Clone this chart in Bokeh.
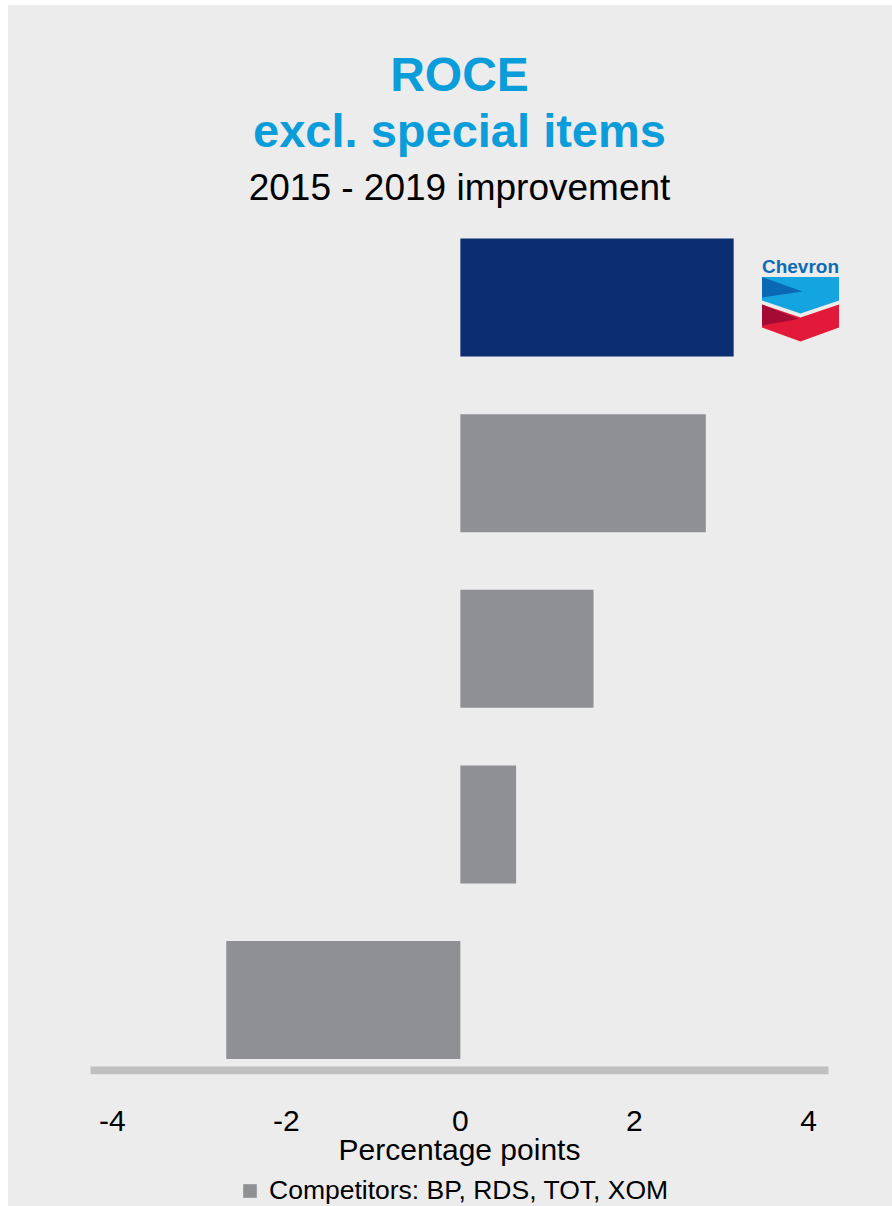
from bokeh.plotting import figure
from bokeh.layouts import column
from bokeh.models import (ColumnDataSource, Title, Legend, LegendItem, FixedTicker,
                          Range1d, PolyAnnotation, Label)
from bokeh.embed import file_html
from bokeh.resources import INLINE

# ---- data ----
categories = ["Chevron", "Competitor A", "Competitor B", "Competitor C", "Competitor D"]
improvement = [3.14, 2.82, 1.53, 0.64, -2.69]
tick_values = [-4, -2, 0, 2, 4]
tick_labels = ["-4", "-2", "0", "2", "4"]
legend_label = "Competitors: BP, RDS, TOT, XOM"
title_lines = ["ROCE", "excl. special items", "2015 - 2019 improvement"]
x_label = "Percentage points"
axis_extent = [-4.25, 4.23]

# ---- layout constants ----
OFF_X, OFF_Y = 8, 5            # white page strip left / top
W, H = 884, 1171               # main chart
LEG_H = 30                     # legend strip below
FONT = "Liberation Sans"
BG = "#ececec"
CVX_NAVY = "#0b2d71"
GREY = "#8e9094"
TITLE_BLUE = "#0a9dd9"

X0, X1 = -4.445, 4.425
Y0, Y1 = -0.4243, 4.4675
FRAME_L, FRAME_R, FRAME_T, FRAME_B = 65, 837, 210, 1069  # figure px

n = len(categories)
pos = [n - 1 - i for i in range(n)]

cvx = ColumnDataSource(dict(cat=categories[:1], y=pos[:1], v=improvement[:1]))
comp = ColumnDataSource(dict(cat=categories[1:], y=pos[1:], v=improvement[1:]))

p = figure(width=W, height=H, output_backend="svg", toolbar_location=None,
           x_range=Range1d(X0, X1), y_range=Range1d(Y0, Y1),
           y_axis_location=None,
           min_border_left=FRAME_L, min_border_right=W - FRAME_R,
           min_border_top=FRAME_T, min_border_bottom=H - FRAME_B)
p.margin = (OFF_Y, 0, 0, OFF_X)
p.styles = {"background-color": BG}
p.background_fill_color = None
p.border_fill_color = None
p.outline_line_color = None
p.xgrid.visible = False
p.ygrid.visible = False

BAR_H = 0.672
p.hbar(y="y", left=0, right="v", height=BAR_H, source=cvx,
       fill_color=CVX_NAVY, line_color=None)
p.hbar(y="y", left=0, right="v", height=BAR_H, source=comp,
       fill_color=GREY, line_color=None)

# thick grey baseline (drawn 4px above the frame bottom)
line_y = Y0 + 4 / (FRAME_B - FRAME_T) * (Y1 - Y0)
p.segment(x0=[axis_extent[0]], x1=[axis_extent[1]], y0=[line_y], y1=[line_y],
          line_color="#c0c0c0", line_width=8, line_cap="butt")

# ---- axis ----
ax = p.xaxis[0]
ax.ticker = FixedTicker(ticks=tick_values)
ax.major_label_overrides = {t: l for t, l in zip(tick_values, tick_labels)}
ax.axis_line_color = None
ax.major_tick_line_color = None
ax.minor_tick_line_color = None
ax.major_tick_out = 0
ax.major_tick_in = 0
ax.major_label_standoff = 36
ax.major_label_text_font = FONT
ax.major_label_text_font_size = "30px"
ax.major_label_text_color = "black"
ax.axis_label = x_label
ax.axis_label_text_font = FONT
ax.axis_label_text_font_size = "30px"
ax.axis_label_text_font_style = "normal"
ax.axis_label_text_color = "black"
ax.axis_label_standoff = -1

# ---- titles (first added sits closest to the plot) ----
p.add_layout(Title(text=title_lines[2], align="center", text_font=FONT,
                   text_font_size="37px", text_font_style="normal",
                   text_color="black", standoff=16), "above")
p.add_layout(Title(text=title_lines[1], align="center", text_font=FONT,
                   text_font_size="47px", text_font_style="bold",
                   text_color=TITLE_BLUE, standoff=0), "above")
p.add_layout(Title(text=title_lines[0], align="center", text_font=FONT,
                   text_font_size="48px", text_font_style="bold",
                   text_color=TITLE_BLUE, standoff=1), "above")

# ---- Chevron hallmark (decoration) ----
def dx(px):
    return X0 + (px - OFF_X - FRAME_L) / (FRAME_R - FRAME_L) * (X1 - X0)

def dy(py):
    return Y1 - (py - OFF_Y - FRAME_T) / (FRAME_B - FRAME_T) * (Y1 - Y0)

L, R, C = 761.5, 838.5, 800
shapes = [
    ([L, R, R, C, L], [276.5, 276.5, 300, 313, 300], "#14a5e0"),
    ([L, C + 2, L], [276.5, 291, 297], "#0a68b4"),
    ([L, C, R, R, C, L], [304, 317, 304, 327, 341, 327], "#e3193a"),
    ([L, C - 2, L], [304, 318.5, 325], "#a30a34"),
]
for xs, ys, col in shapes:
    p.add_layout(PolyAnnotation(xs=[dx(v) for v in xs], ys=[dy(v) for v in ys],
                                fill_color=col, fill_alpha=1.0, line_color=None))
p.add_layout(Label(x=dx(C), y=dy(266), text="Chevron", text_align="center",
                   text_baseline="middle", text_font=FONT, text_font_size="19px",
                   text_font_style="bold", text_color="#0d6cb5"))

# ---- legend strip (frame aligned with the chart frame by the column) ----
leg = figure(width=W, height=LEG_H, output_backend="svg", toolbar_location=None,
             x_range=Range1d(0, 1), y_range=Range1d(100, 101),
             x_axis_location=None, y_axis_location=None,
             min_border_left=0, min_border_right=0, min_border_top=0,
             min_border_bottom=0)
leg.margin = (0, 0, 0, OFF_X)
leg.styles = {"background-color": BG}
leg.background_fill_color = None
leg.border_fill_color = None
leg.outline_line_color = None
leg.xgrid.visible = False
leg.ygrid.visible = False
# key renderer uses the competitor data but lies outside this strip's range
key = leg.hbar(y="y", left=0, right="v", height=BAR_H, source=comp,
               fill_color=GREY, line_color=None)
legend = Legend(items=[LegendItem(label=legend_label, renderers=[key])],
                location=(168, 0), orientation="horizontal",
                glyph_width=17, glyph_height=17, label_standoff=11,
                label_text_font=FONT, label_text_font_size="26.5px",
                label_text_color="black",
                padding=0, margin=0, spacing=0,
                border_line_color=None, background_fill_alpha=0)
leg.add_layout(legend, "center")

layout = column(p, leg, spacing=0)
open("out.html", "w").write(file_html(layout, INLINE))
